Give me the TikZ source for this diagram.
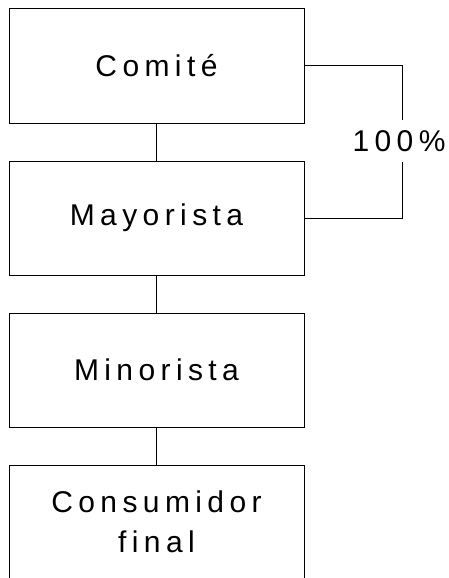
\documentclass[tikz,border=0pt]{standalone}
\usepackage{fontspec}
\setmainfont{Liberation Sans}[LetterSpace=18]

\begin{document}
\begin{tikzpicture}[x=1pt, y=-1pt,
    stage/.style={draw, rectangle, line width=1pt, minimum width=295pt,
      minimum height=114pt, inner sep=0pt, align=center,
      font=\fontsize{30}{40}\selectfont},
    link/.style={line width=1pt}]
          \useasboundingbox (0,0) rectangle (449,578);

          % Nodes for the stages of the chain (boxes)
          \node[stage] (Comite) at (156.5, 66) {Comité};
          \node[stage] (Mayorista) at (156.5, 218) {Mayorista};
          \node[stage] (Minorista) at (156.5, 370) {Minorista};
          \node[stage] (Consumidor) at (156.5, 522) {Consumidor\\final};

          % Node for the share label
          \node[font=\fontsize{30}{40}\selectfont, minimum height=42pt, inner sep=0pt] (Share) at (399, 141) {100\%};

          % Edges
          \draw [link] (Comite) -- (Mayorista);
          \draw [link] (Mayorista) -- (Minorista);
          \draw [link] (Minorista) -- (Consumidor);
          \draw [link] (Comite.east) -| ([xshift=3pt]Share.north);
          \draw [link] ([xshift=3pt]Share.south) |- (Mayorista.east);
        \end{tikzpicture}
\end{document}
